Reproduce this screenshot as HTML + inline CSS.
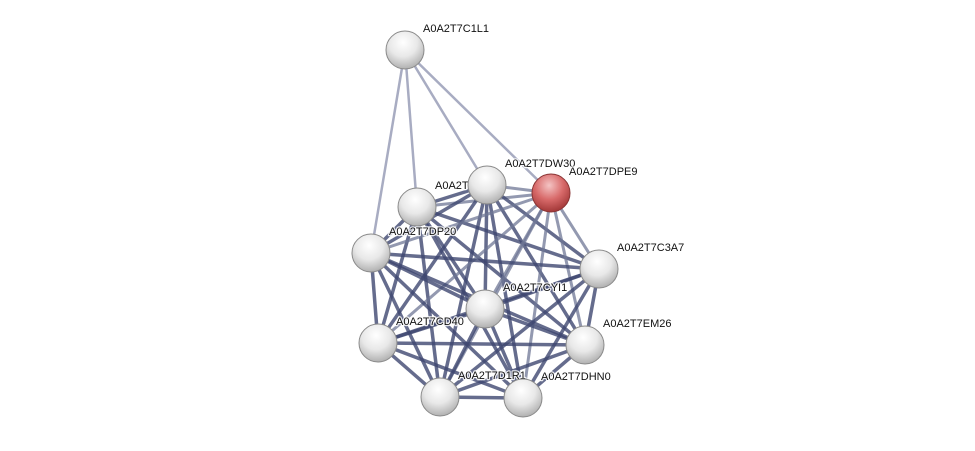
<!DOCTYPE html>
<html><head><meta charset="utf-8"><style>
html,body{margin:0;padding:0;background:#fff;}
svg text{font-family:"Liberation Sans",sans-serif;font-size:11px;fill:#111;stroke:#fff;stroke-width:2.5px;stroke-opacity:0.85;paint-order:stroke;stroke-linejoin:round;}
</style></head><body>
<svg width="975" height="446" viewBox="0 0 975 446" xmlns="http://www.w3.org/2000/svg">
<defs>
<radialGradient id="g" cx="0.45" cy="0.3" r="0.75">
<stop offset="0" stop-color="#ffffff"/><stop offset="0.5" stop-color="#e8e8e8"/><stop offset="1" stop-color="#a8a8a8"/>
</radialGradient>
<radialGradient id="r" cx="0.45" cy="0.3" r="0.75">
<stop offset="0" stop-color="#f4c4c4"/><stop offset="0.5" stop-color="#d86a6a"/><stop offset="1" stop-color="#9a3030"/>
</radialGradient>
</defs>
<g id="edges" stroke-linecap="round"></g>
<g id="nodes"></g>
</svg>
<script>
var N={C1L1:[405,50],X:[417,207],DW30:[487,185],DPE9:[551,193],DP20:[371,253],C3A7:[599,269],CYI1:[485,309],CD40:[378,343],EM26:[585,345],D1R1:[440,397],DHN0:[523,398]};
var ns="http://www.w3.org/2000/svg",E=document.getElementById("edges"),G=document.getElementById("nodes");
function line(a,b,c,w,o){var l=document.createElementNS(ns,"line");l.setAttribute("x1",N[a][0]);l.setAttribute("y1",N[a][1]);l.setAttribute("x2",N[b][0]);l.setAttribute("y2",N[b][1]);l.setAttribute("stroke",c);l.setAttribute("stroke-width",w);l.setAttribute("stroke-opacity",o);E.appendChild(l);}
["DP20","X","DW30","DPE9"].forEach(function(k){line("C1L1",k,"#9ea3bb",2.5,0.9);});
var core=["X","DW30","DPE9","DP20","C3A7","CYI1","CD40","EM26","D1R1","DHN0"];
for(var i=0;i<core.length;i++)for(var j=i+1;j<core.length;j++){
var a=core[i],b=core[j];
if(a=="DPE9"||b=="DPE9")line(a,b,"#6f7796",3,0.75);else line(a,b,"#3e4770",3.5,0.8);}
var lab={C1L1:"A0A2T7C1L1",X:"A0A2T7DMF9",DW30:"A0A2T7DW30",DPE9:"A0A2T7DPE9",DP20:"A0A2T7DP20",C3A7:"A0A2T7C3A7",CYI1:"A0A2T7CYI1",CD40:"A0A2T7CD40",EM26:"A0A2T7EM26",D1R1:"A0A2T7D1R1",DHN0:"A0A2T7DHN0"};
["C1L1","X","DW30","DPE9","DP20","C3A7","CYI1","CD40","EM26","D1R1","DHN0"].forEach(function(k){
var c=document.createElementNS(ns,"circle");c.setAttribute("cx",N[k][0]);c.setAttribute("cy",N[k][1]);c.setAttribute("r",19);c.setAttribute("fill",k=="DPE9"?"url(#r)":"url(#g)");c.setAttribute("stroke",k=="DPE9"?"#8a3535":"#8a8a8a");c.setAttribute("stroke-width",1);G.appendChild(c);
var t=document.createElementNS(ns,"text");t.setAttribute("x",N[k][0]+18);t.setAttribute("y",N[k][1]-18);t.textContent=lab[k];G.appendChild(t);});
</script>
</body></html>
